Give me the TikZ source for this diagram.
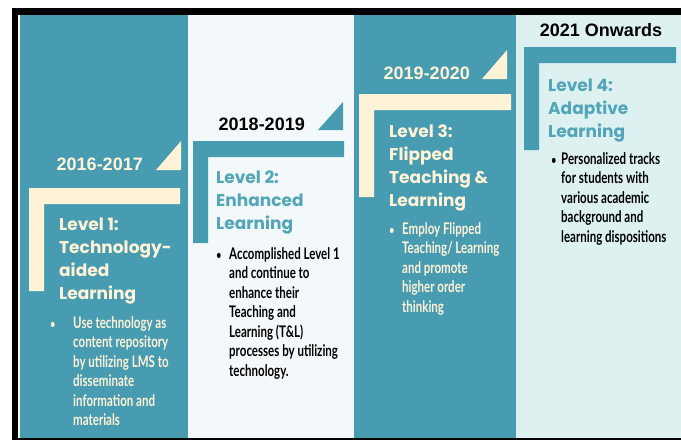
\documentclass[tikz,border=0pt]{standalone}
\usepackage{fontspec}
\setmainfont{Liberation Sans}
\newfontfamily\levelfont{Poppins}
\newfontfamily\notefont[FakeStretch=0.72]{Lato}
\usetikzlibrary{positioning}
\definecolor{panelteal}{RGB}{72,156,177}
\definecolor{panelcream}{RGB}{255,243,215}
\definecolor{panelpale}{RGB}{243,249,250}
\definecolor{panelmint}{RGB}{220,241,240}
\definecolor{headteal}{RGB}{83,165,185}
\tikzset{year/.style = {font = \bfseries\fontsize{18}{20}\selectfont, inner sep = 0, anchor = base east},
         level/.style = {font = \levelfont\bfseries\fontsize{17}{23}\selectfont, align = left, inner sep = 0, anchor = base west},
         note/.style = {font = \notefont\bfseries\fontsize{16}{19.5}\selectfont, align = left, inner sep = 0, anchor = base west},
         dot/.style = {font = \notefont\bfseries\fontsize{12}{12}\selectfont, inner sep = 0, anchor = base}}

\begin{document}
\begin{tikzpicture}[x = 1pt, y = -1pt]
        \useasboundingbox (0,0) rectangle (681,440);
        % frame
        \fill[black] (12,8) rectangle (681,15);
        \fill[black] (12,8) rectangle (18,440);
        \fill[black] (12,438) rectangle (681,440);
        % panels
        \fill[panelteal] (20,15)  rectangle (188,438);
        \fill[panelpale] (188,15) rectangle (354,438);
        \fill[panelteal] (354,15) rectangle (516,438);
        \fill[panelmint] (516,15) rectangle (681,438);

        % level 1 (multi-line nodes sit on their last baseline)
        \fill[panelcream] (156,170) -- (181,170) -- (181,141) -- cycle;
        \fill[panelcream] (29,188) -- (180,188) -- (180,204) -- (44,204) -- (44,291) -- (29,291) -- cycle;
        \node[year, text = panelcream]  (y1) at (143,170)   {2016-2017};
        \node[level, text = panelcream] (l1) at (59,299)    {Level 1:\\Technology-\\aided\\Learning};
        \node[note, text = panelcream]  (n1) at (73,425.5)  {Use technology as\\content repository\\by utilizing LMS to\\disseminate\\information and\\materials};
        \node[dot, text = panelcream]   (d1) at (53,328)    {\textbullet};

        % level 2
        \fill[panelteal] (318,130) -- (343,130) -- (343,102) -- cycle;
        \fill[panelteal] (193,141) -- (344,141) -- (344,157) -- (208,157) -- (208,243) -- (193,243) -- cycle;
        \node[year]                     (y2) at (305,130)   {2018-2019};
        \node[level, text = headteal]   (l2) at (216,229)   {Level 2:\\Enhanced\\Learning};
        \node[note]                     (n2) at (229,376)   {Accomplished Level 1\\and continue to\\enhance their\\Teaching and\\Learning (T\&L)\\processes by utilizing\\technology.};
        \node[dot]                      (d2) at (219,259)   {\textbullet};

        % level 3
        \fill[panelcream] (482,79) -- (507,79) -- (507,50) -- cycle;
        \fill[panelcream] (359,94) -- (511,94) -- (511,110) -- (374,110) -- (374,197) -- (359,197) -- cycle;
        \node[year, text = panelcream]  (y3) at (470,79)    {2019-2020};
        \node[level, text = panelcream] (l3) at (389,206)   {Level 3:\\Flipped\\Teaching \&\\Learning};
        \node[note, text = panelcream]  (n3) at (402,312)   {Employ Flipped\\Teaching/ Learning\\and promote\\higher order\\thinking};
        \node[dot, text = panelcream]   (d3) at (392,234)   {\textbullet};

        % level 4
        \fill[panelteal] (524,47) -- (676,47) -- (676,63) -- (539,63) -- (539,150) -- (524,150) -- cycle;
        \node[year, anchor = base]      (y4) at (601,36)    {2021 Onwards};
        \node[level, text = headteal]   (l4) at (548,137)   {Level 4:\\Adaptive\\Learning};
        \node[note]                     (n4) at (561,242)   {Personalized tracks\\for students with\\various academic\\background and\\learning dispositions};
        \node[dot]                      (d4) at (554,164)   {\textbullet};
\end{tikzpicture}
\end{document}
